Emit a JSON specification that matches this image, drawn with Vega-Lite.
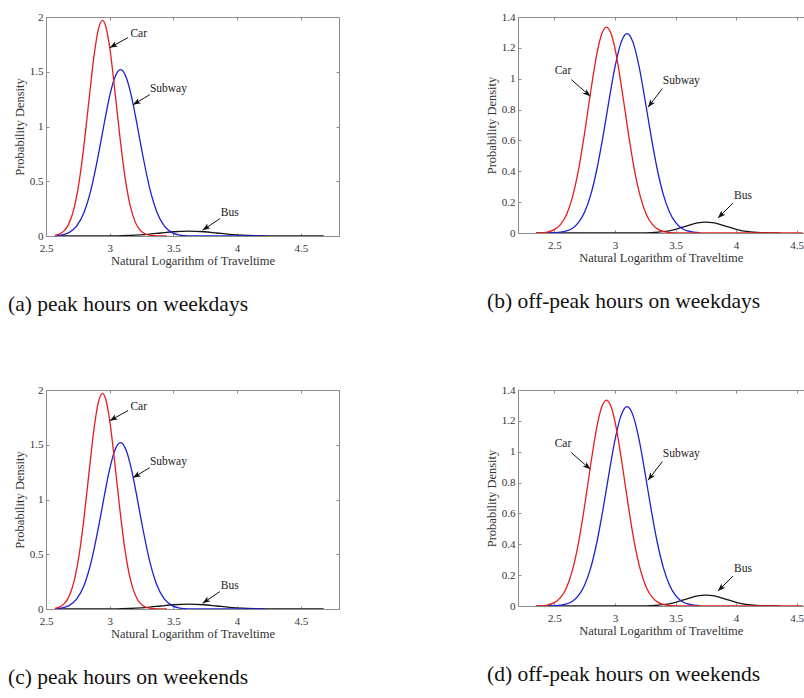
{
  "$schema": "https://vega.github.io/schema/vega-lite/v6.json",
  "padding": {"left": 8, "top": 11, "right": 0, "bottom": 0},
  "background": "white",
  "bounds": "flush",
  "spacing": 373,
  "config": {
    "view": {"stroke": null},
    "font": "Liberation Serif",
    "axis": {
      "grid": false,
      "domainColor": "#8c8c8c",
      "domainWidth": 1,
      "tickColor": "#8c8c8c",
      "tickWidth": 1,
      "tickSize": -3,
      "labelFont": "Liberation Serif",
      "labelFontSize": 11,
      "labelColor": "#333333",
      "labelFlush": false,
      "labelOverlap": false,
      "labelPadding": 6,
      "titleFont": "Liberation Serif",
      "titleFontSize": 12.5,
      "titleFontWeight": "normal",
      "titleColor": "#333333",
      "titlePadding": 3
    },
    "axisX": {"labelPadding": 9, "titlePadding": 1.5},
    "title": {"font": "Liberation Serif", "fontSize": 21.5, "fontWeight": "normal", "color": "#111111"}
  },
  "datasets": {
    "peakCurves": [
      {"mode": "Bus", "x": 2.57, "density": 0},
      {"mode": "Bus", "x": 2.8, "density": 0},
      {"mode": "Bus", "x": 3.0, "density": 0.0009},
      {"mode": "Bus", "x": 3.1, "density": 0.0028},
      {"mode": "Bus", "x": 3.2, "density": 0.0073},
      {"mode": "Bus", "x": 3.3, "density": 0.0156},
      {"mode": "Bus", "x": 3.4, "density": 0.0273},
      {"mode": "Bus", "x": 3.5, "density": 0.0388},
      {"mode": "Bus", "x": 3.62, "density": 0.045},
      {"mode": "Bus", "x": 3.74, "density": 0.0388},
      {"mode": "Bus", "x": 3.84, "density": 0.0273},
      {"mode": "Bus", "x": 3.94, "density": 0.0156},
      {"mode": "Bus", "x": 4.04, "density": 0.0073},
      {"mode": "Bus", "x": 4.14, "density": 0.0028},
      {"mode": "Bus", "x": 4.24, "density": 0.0009},
      {"mode": "Bus", "x": 4.4, "density": 0},
      {"mode": "Bus", "x": 4.68, "density": 0},
      {"mode": "Subway", "x": 2.57, "density": 0.0028},
      {"mode": "Subway", "x": 2.62, "density": 0.0089},
      {"mode": "Subway", "x": 2.68, "density": 0.0307},
      {"mode": "Subway", "x": 2.74, "density": 0.0897},
      {"mode": "Subway", "x": 2.8, "density": 0.22},
      {"mode": "Subway", "x": 2.86, "density": 0.456},
      {"mode": "Subway", "x": 2.92, "density": 0.796},
      {"mode": "Subway", "x": 2.96, "density": 1.048},
      {"mode": "Subway", "x": 3.0, "density": 1.28},
      {"mode": "Subway", "x": 3.04, "density": 1.448},
      {"mode": "Subway", "x": 3.085, "density": 1.52},
      {"mode": "Subway", "x": 3.13, "density": 1.448},
      {"mode": "Subway", "x": 3.17, "density": 1.28},
      {"mode": "Subway", "x": 3.21, "density": 1.048},
      {"mode": "Subway", "x": 3.25, "density": 0.796},
      {"mode": "Subway", "x": 3.31, "density": 0.456},
      {"mode": "Subway", "x": 3.37, "density": 0.22},
      {"mode": "Subway", "x": 3.43, "density": 0.0897},
      {"mode": "Subway", "x": 3.49, "density": 0.0307},
      {"mode": "Subway", "x": 3.55, "density": 0.0089},
      {"mode": "Subway", "x": 3.62, "density": 0.0017},
      {"mode": "Subway", "x": 3.75, "density": 0},
      {"mode": "Subway", "x": 4.22, "density": 0},
      {"mode": "Car", "x": 2.57, "density": 0.0063},
      {"mode": "Car", "x": 2.6, "density": 0.0152},
      {"mode": "Car", "x": 2.64, "density": 0.0443},
      {"mode": "Car", "x": 2.68, "density": 0.113},
      {"mode": "Car", "x": 2.72, "density": 0.252},
      {"mode": "Car", "x": 2.76, "density": 0.494},
      {"mode": "Car", "x": 2.8, "density": 0.846},
      {"mode": "Car", "x": 2.84, "density": 1.271},
      {"mode": "Car", "x": 2.88, "density": 1.672},
      {"mode": "Car", "x": 2.91, "density": 1.883},
      {"mode": "Car", "x": 2.943, "density": 1.97},
      {"mode": "Car", "x": 2.97, "density": 1.911},
      {"mode": "Car", "x": 3.0, "density": 1.722},
      {"mode": "Car", "x": 3.04, "density": 1.335},
      {"mode": "Car", "x": 3.08, "density": 0.907},
      {"mode": "Car", "x": 3.12, "density": 0.54},
      {"mode": "Car", "x": 3.16, "density": 0.281},
      {"mode": "Car", "x": 3.2, "density": 0.129},
      {"mode": "Car", "x": 3.24, "density": 0.0515},
      {"mode": "Car", "x": 3.28, "density": 0.018},
      {"mode": "Car", "x": 3.32, "density": 0.0056},
      {"mode": "Car", "x": 3.38, "density": 0.0007},
      {"mode": "Car", "x": 3.45, "density": 0}
    ],
    "offpeakCurves": [
      {"mode": "Bus", "x": 2.35, "density": 0},
      {"mode": "Bus", "x": 3.0, "density": 0},
      {"mode": "Bus", "x": 3.2, "density": 0.0004},
      {"mode": "Bus", "x": 3.3, "density": 0.0021},
      {"mode": "Bus", "x": 3.4, "density": 0.0085},
      {"mode": "Bus", "x": 3.5, "density": 0.0241},
      {"mode": "Bus", "x": 3.6, "density": 0.0481},
      {"mode": "Bus", "x": 3.68, "density": 0.0652},
      {"mode": "Bus", "x": 3.75, "density": 0.071},
      {"mode": "Bus", "x": 3.82, "density": 0.0652},
      {"mode": "Bus", "x": 3.9, "density": 0.0481},
      {"mode": "Bus", "x": 4.0, "density": 0.0241},
      {"mode": "Bus", "x": 4.1, "density": 0.0085},
      {"mode": "Bus", "x": 4.2, "density": 0.0021},
      {"mode": "Bus", "x": 4.3, "density": 0.0004},
      {"mode": "Bus", "x": 4.36, "density": 0},
      {"mode": "Subway", "x": 2.45, "density": 0.0006},
      {"mode": "Subway", "x": 2.55, "density": 0.005},
      {"mode": "Subway", "x": 2.6, "density": 0.0131},
      {"mode": "Subway", "x": 2.65, "density": 0.0313},
      {"mode": "Subway", "x": 2.7, "density": 0.0684},
      {"mode": "Subway", "x": 2.75, "density": 0.136},
      {"mode": "Subway", "x": 2.8, "density": 0.247},
      {"mode": "Subway", "x": 2.85, "density": 0.41},
      {"mode": "Subway", "x": 2.9, "density": 0.62},
      {"mode": "Subway", "x": 2.95, "density": 0.855},
      {"mode": "Subway", "x": 3.0, "density": 1.075},
      {"mode": "Subway", "x": 3.05, "density": 1.234},
      {"mode": "Subway", "x": 3.1, "density": 1.292},
      {"mode": "Subway", "x": 3.15, "density": 1.234},
      {"mode": "Subway", "x": 3.2, "density": 1.075},
      {"mode": "Subway", "x": 3.25, "density": 0.855},
      {"mode": "Subway", "x": 3.3, "density": 0.62},
      {"mode": "Subway", "x": 3.35, "density": 0.41},
      {"mode": "Subway", "x": 3.4, "density": 0.247},
      {"mode": "Subway", "x": 3.45, "density": 0.136},
      {"mode": "Subway", "x": 3.5, "density": 0.0684},
      {"mode": "Subway", "x": 3.55, "density": 0.0313},
      {"mode": "Subway", "x": 3.6, "density": 0.0131},
      {"mode": "Subway", "x": 3.65, "density": 0.005},
      {"mode": "Subway", "x": 3.7, "density": 0.0015},
      {"mode": "Car", "x": 2.35, "density": 0.0008},
      {"mode": "Car", "x": 2.4, "density": 0.0026},
      {"mode": "Car", "x": 2.45, "density": 0.008},
      {"mode": "Car", "x": 2.5, "density": 0.0219},
      {"mode": "Car", "x": 2.55, "density": 0.0539},
      {"mode": "Car", "x": 2.6, "density": 0.1187},
      {"mode": "Car", "x": 2.65, "density": 0.2339},
      {"mode": "Car", "x": 2.7, "density": 0.4119},
      {"mode": "Car", "x": 2.75, "density": 0.6499},
      {"mode": "Car", "x": 2.8, "density": 0.917},
      {"mode": "Car", "x": 2.85, "density": 1.158},
      {"mode": "Car", "x": 2.89, "density": 1.288},
      {"mode": "Car", "x": 2.93, "density": 1.335},
      {"mode": "Car", "x": 2.97, "density": 1.288},
      {"mode": "Car", "x": 3.01, "density": 1.158},
      {"mode": "Car", "x": 3.06, "density": 0.917},
      {"mode": "Car", "x": 3.11, "density": 0.65},
      {"mode": "Car", "x": 3.16, "density": 0.412},
      {"mode": "Car", "x": 3.21, "density": 0.234},
      {"mode": "Car", "x": 3.26, "density": 0.119},
      {"mode": "Car", "x": 3.31, "density": 0.054},
      {"mode": "Car", "x": 3.36, "density": 0.022},
      {"mode": "Car", "x": 3.41, "density": 0.008},
      {"mode": "Car", "x": 3.46, "density": 0.0026},
      {"mode": "Car", "x": 3.55, "density": 0.0003},
      {"mode": "Car", "x": 3.7, "density": 0},
      {"mode": "Car", "x": 4.55, "density": 0}
    ],
    "peakArrows": [
      {"mode": "Car", "tx": 3.228, "ty": 1.848, "x1": 3.144, "y1": 1.812, "x2": 3.0, "y2": 1.72},
      {"mode": "Subway", "tx": 3.461, "ty": 1.346, "x1": 3.315, "y1": 1.291, "x2": 3.183, "y2": 1.199},
      {"mode": "Bus", "tx": 3.943, "ty": 0.21, "x1": 3.865, "y1": 0.159, "x2": 3.729, "y2": 0.052}
    ],
    "offpeakArrows": [
      {"mode": "Car", "tx": 2.571, "ty": 1.052, "x1": 2.64, "y1": 0.994, "x2": 2.797, "y2": 0.886},
      {"mode": "Subway", "tx": 3.548, "ty": 0.983, "x1": 3.391, "y1": 0.936, "x2": 3.273, "y2": 0.815},
      {"mode": "Bus", "tx": 4.056, "ty": 0.238, "x1": 3.974, "y1": 0.194, "x2": 3.85, "y2": 0.097}
    ]
  },
  "vconcat": [
    {
      "bounds": "flush",
      "spacing": 179,
      "hconcat": [
        {
          "width": 293, "height": 219,
          "title": {"text": "(a) peak hours on weekdays", "orient": "bottom", "anchor": "start", "frame": "group", "dx": -38, "offset": 27, "baseline": "top"},
          "layer": [
            {
              "data": {"name": "peakCurves"},
              "mark": {"type": "line", "strokeWidth": 1.3, "interpolate": "monotone", "clip": true},
              "encoding": {
                "x": {"field": "x", "type": "quantitative", "scale": {"domain": [2.5, 4.8], "nice": false, "zero": false}, "axis": {"orient": "bottom", "values": [2.5, 3, 3.5, 4, 4.5], "format": "~g", "title": "Natural Logarithm of Traveltime"}},
                "y": {"field": "density", "type": "quantitative", "scale": {"domain": [0, 2], "nice": false}, "axis": {"orient": "left", "values": [0, 0.5, 1, 1.5, 2], "format": "~g", "title": "Probability Density"}},
                "color": {"field": "mode", "type": "nominal", "scale": {"domain": ["Bus", "Subway", "Car"], "range": ["#141414", "#1f1fd6", "#e81c1c"]}, "legend": null}
              }
            },
            {
              "data": {"name": "peakArrows"},
              "mark": {"type": "rule", "color": "#111111", "strokeWidth": 1},
              "encoding": {
                "x": {"field": "x1", "type": "quantitative", "scale": {"domain": [2.5, 4.8], "nice": false, "zero": false}, "axis": {"orient": "top", "values": [2.5, 3, 3.5, 4, 4.5], "labels": false, "title": null}},
                "y": {"field": "y1", "type": "quantitative", "scale": {"domain": [0, 2], "nice": false}, "axis": {"orient": "right", "values": [0, 0.5, 1, 1.5, 2], "labels": false, "title": null}},
                "x2": {"field": "x2"},
                "y2": {"field": "y2"}
              }
            },
            {
              "data": {"name": "peakArrows"},
              "transform": [{"calculate": "atan2(-(datum.y2-datum.y1)*109.5,(datum.x2-datum.x1)*127.3)*180/PI", "as": "angle"}],
              "mark": {"type": "point", "shape": "M0,0L-2,-0.75L-1.5,0L-2,0.75Z", "filled": true, "color": "#111111", "size": 60, "opacity": 1},
              "encoding": {
                "x": {"field": "x2", "type": "quantitative", "scale": {"domain": [2.5, 4.8], "nice": false, "zero": false}, "axis": null},
                "y": {"field": "y2", "type": "quantitative", "scale": {"domain": [0, 2], "nice": false}, "axis": null},
                "angle": {"field": "angle", "type": "quantitative", "scale": null}
              }
            },
            {
              "data": {"name": "peakArrows"},
              "mark": {"type": "text", "font": "Liberation Serif", "fontSize": 11.5, "color": "#222222"},
              "encoding": {
                "x": {"field": "tx", "type": "quantitative", "scale": {"domain": [2.5, 4.8], "nice": false, "zero": false}, "axis": null},
                "y": {"field": "ty", "type": "quantitative", "scale": {"domain": [0, 2], "nice": false}, "axis": null},
                "text": {"field": "mode"}
              }
            }
          ],
          "resolve": {"axis": {"x": "independent", "y": "independent"}}
        },
        {
          "width": 285.5, "height": 216,
          "title": {"text": "(b) off-peak hours on weekdays", "orient": "bottom", "anchor": "start", "frame": "group", "dx": -31, "offset": 27, "baseline": "top"},
          "layer": [
            {
              "data": {"name": "offpeakCurves"},
              "mark": {"type": "line", "strokeWidth": 1.3, "interpolate": "monotone", "clip": true},
              "encoding": {
                "x": {"field": "x", "type": "quantitative", "scale": {"domain": [2.2, 4.556], "nice": false, "zero": false}, "axis": {"orient": "bottom", "values": [2.5, 3, 3.5, 4, 4.5], "format": "~g", "title": "Natural Logarithm of Traveltime"}},
                "y": {"field": "density", "type": "quantitative", "scale": {"domain": [0, 1.4], "nice": false}, "axis": {"orient": "left", "values": [0, 0.2, 0.4, 0.6, 0.8, 1, 1.2, 1.4], "format": "~g", "title": "Probability Density"}},
                "color": {"field": "mode", "type": "nominal", "scale": {"domain": ["Bus", "Subway", "Car"], "range": ["#141414", "#1f1fd6", "#e81c1c"]}, "legend": null}
              }
            },
            {
              "data": {"name": "offpeakArrows"},
              "mark": {"type": "rule", "color": "#111111", "strokeWidth": 1},
              "encoding": {
                "x": {"field": "x1", "type": "quantitative", "scale": {"domain": [2.2, 4.556], "nice": false, "zero": false}, "axis": {"orient": "top", "values": [2.5, 3, 3.5, 4, 4.5], "labels": false, "title": null}},
                "y": {"field": "y1", "type": "quantitative", "scale": {"domain": [0, 1.4], "nice": false}, "axis": null},
                "x2": {"field": "x2"},
                "y2": {"field": "y2"}
              }
            },
            {
              "data": {"name": "offpeakArrows"},
              "transform": [{"calculate": "atan2(-(datum.y2-datum.y1)*154.3,(datum.x2-datum.x1)*121.2)*180/PI", "as": "angle"}],
              "mark": {"type": "point", "shape": "M0,0L-2,-0.75L-1.5,0L-2,0.75Z", "filled": true, "color": "#111111", "size": 60, "opacity": 1},
              "encoding": {
                "x": {"field": "x2", "type": "quantitative", "scale": {"domain": [2.2, 4.556], "nice": false, "zero": false}, "axis": null},
                "y": {"field": "y2", "type": "quantitative", "scale": {"domain": [0, 1.4], "nice": false}, "axis": null},
                "angle": {"field": "angle", "type": "quantitative", "scale": null}
              }
            },
            {
              "data": {"name": "offpeakArrows"},
              "mark": {"type": "text", "font": "Liberation Serif", "fontSize": 11.5, "color": "#222222"},
              "encoding": {
                "x": {"field": "tx", "type": "quantitative", "scale": {"domain": [2.2, 4.556], "nice": false, "zero": false}, "axis": null},
                "y": {"field": "ty", "type": "quantitative", "scale": {"domain": [0, 1.4], "nice": false}, "axis": null},
                "text": {"field": "mode"}
              }
            }
          ],
          "resolve": {"axis": {"x": "independent", "y": "independent"}}
        }
      ]
    },
    {
      "bounds": "flush",
      "spacing": 179,
      "hconcat": [
        {
          "width": 293, "height": 219,
          "title": {"text": "(c) peak hours on weekends", "orient": "bottom", "anchor": "start", "frame": "group", "dx": -38, "offset": 27, "baseline": "top"},
          "layer": [
            {
              "data": {"name": "peakCurves"},
              "mark": {"type": "line", "strokeWidth": 1.3, "interpolate": "monotone", "clip": true},
              "encoding": {
                "x": {"field": "x", "type": "quantitative", "scale": {"domain": [2.5, 4.8], "nice": false, "zero": false}, "axis": {"orient": "bottom", "values": [2.5, 3, 3.5, 4, 4.5], "format": "~g", "title": "Natural Logarithm of Traveltime"}},
                "y": {"field": "density", "type": "quantitative", "scale": {"domain": [0, 2], "nice": false}, "axis": {"orient": "left", "values": [0, 0.5, 1, 1.5, 2], "format": "~g", "title": "Probability Density"}},
                "color": {"field": "mode", "type": "nominal", "scale": {"domain": ["Bus", "Subway", "Car"], "range": ["#141414", "#1f1fd6", "#e81c1c"]}, "legend": null}
              }
            },
            {
              "data": {"name": "peakArrows"},
              "mark": {"type": "rule", "color": "#111111", "strokeWidth": 1},
              "encoding": {
                "x": {"field": "x1", "type": "quantitative", "scale": {"domain": [2.5, 4.8], "nice": false, "zero": false}, "axis": {"orient": "top", "values": [2.5, 3, 3.5, 4, 4.5], "labels": false, "title": null}},
                "y": {"field": "y1", "type": "quantitative", "scale": {"domain": [0, 2], "nice": false}, "axis": {"orient": "right", "values": [0, 0.5, 1, 1.5, 2], "labels": false, "title": null}},
                "x2": {"field": "x2"},
                "y2": {"field": "y2"}
              }
            },
            {
              "data": {"name": "peakArrows"},
              "transform": [{"calculate": "atan2(-(datum.y2-datum.y1)*109.5,(datum.x2-datum.x1)*127.3)*180/PI", "as": "angle"}],
              "mark": {"type": "point", "shape": "M0,0L-2,-0.75L-1.5,0L-2,0.75Z", "filled": true, "color": "#111111", "size": 60, "opacity": 1},
              "encoding": {
                "x": {"field": "x2", "type": "quantitative", "scale": {"domain": [2.5, 4.8], "nice": false, "zero": false}, "axis": null},
                "y": {"field": "y2", "type": "quantitative", "scale": {"domain": [0, 2], "nice": false}, "axis": null},
                "angle": {"field": "angle", "type": "quantitative", "scale": null}
              }
            },
            {
              "data": {"name": "peakArrows"},
              "mark": {"type": "text", "font": "Liberation Serif", "fontSize": 11.5, "color": "#222222"},
              "encoding": {
                "x": {"field": "tx", "type": "quantitative", "scale": {"domain": [2.5, 4.8], "nice": false, "zero": false}, "axis": null},
                "y": {"field": "ty", "type": "quantitative", "scale": {"domain": [0, 2], "nice": false}, "axis": null},
                "text": {"field": "mode"}
              }
            }
          ],
          "resolve": {"axis": {"x": "independent", "y": "independent"}}
        },
        {
          "width": 285.5, "height": 216,
          "title": {"text": "(d) off-peak hours on weekends", "orient": "bottom", "anchor": "start", "frame": "group", "dx": -31, "offset": 27, "baseline": "top"},
          "layer": [
            {
              "data": {"name": "offpeakCurves"},
              "mark": {"type": "line", "strokeWidth": 1.3, "interpolate": "monotone", "clip": true},
              "encoding": {
                "x": {"field": "x", "type": "quantitative", "scale": {"domain": [2.2, 4.556], "nice": false, "zero": false}, "axis": {"orient": "bottom", "values": [2.5, 3, 3.5, 4, 4.5], "format": "~g", "title": "Natural Logarithm of Traveltime"}},
                "y": {"field": "density", "type": "quantitative", "scale": {"domain": [0, 1.4], "nice": false}, "axis": {"orient": "left", "values": [0, 0.2, 0.4, 0.6, 0.8, 1, 1.2, 1.4], "format": "~g", "title": "Probability Density"}},
                "color": {"field": "mode", "type": "nominal", "scale": {"domain": ["Bus", "Subway", "Car"], "range": ["#141414", "#1f1fd6", "#e81c1c"]}, "legend": null}
              }
            },
            {
              "data": {"name": "offpeakArrows"},
              "mark": {"type": "rule", "color": "#111111", "strokeWidth": 1},
              "encoding": {
                "x": {"field": "x1", "type": "quantitative", "scale": {"domain": [2.2, 4.556], "nice": false, "zero": false}, "axis": {"orient": "top", "values": [2.5, 3, 3.5, 4, 4.5], "labels": false, "title": null}},
                "y": {"field": "y1", "type": "quantitative", "scale": {"domain": [0, 1.4], "nice": false}, "axis": null},
                "x2": {"field": "x2"},
                "y2": {"field": "y2"}
              }
            },
            {
              "data": {"name": "offpeakArrows"},
              "transform": [{"calculate": "atan2(-(datum.y2-datum.y1)*154.3,(datum.x2-datum.x1)*121.2)*180/PI", "as": "angle"}],
              "mark": {"type": "point", "shape": "M0,0L-2,-0.75L-1.5,0L-2,0.75Z", "filled": true, "color": "#111111", "size": 60, "opacity": 1},
              "encoding": {
                "x": {"field": "x2", "type": "quantitative", "scale": {"domain": [2.2, 4.556], "nice": false, "zero": false}, "axis": null},
                "y": {"field": "y2", "type": "quantitative", "scale": {"domain": [0, 1.4], "nice": false}, "axis": null},
                "angle": {"field": "angle", "type": "quantitative", "scale": null}
              }
            },
            {
              "data": {"name": "offpeakArrows"},
              "mark": {"type": "text", "font": "Liberation Serif", "fontSize": 11.5, "color": "#222222"},
              "encoding": {
                "x": {"field": "tx", "type": "quantitative", "scale": {"domain": [2.2, 4.556], "nice": false, "zero": false}, "axis": null},
                "y": {"field": "ty", "type": "quantitative", "scale": {"domain": [0, 1.4], "nice": false}, "axis": null},
                "text": {"field": "mode"}
              }
            }
          ],
          "resolve": {"axis": {"x": "independent", "y": "independent"}}
        }
      ]
    }
  ]
}
